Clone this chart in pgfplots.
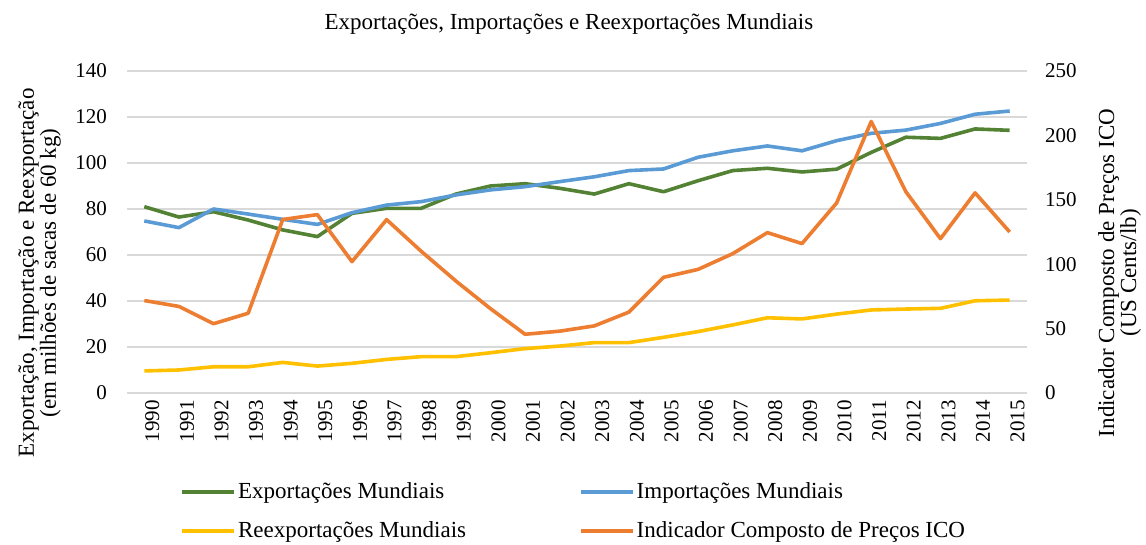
\documentclass[border=0pt]{standalone}
\usepackage{pgfplots}
\pgfplotsset{compat=1.18}
\usepackage{fontspec}
\setmainfont{Liberation Serif}
\definecolor{cgreen}{HTML}{548235}
\definecolor{cblue}{HTML}{5B9BD5}
\definecolor{cyellow}{HTML}{FFC000}
\definecolor{corange}{HTML}{ED7D31}
\definecolor{cgrid}{HTML}{D9D9D9}
\begin{document}
\begin{tikzpicture}
\path[use as bounding box] (-63.5pt,-76pt) rectangle (509.5pt,196.5pt);
\pgfplotsset{
  common/.style={
    width=450pt, height=161pt, scale only axis,
    xmin=1989.5, xmax=2015.5,
    axis line style={draw=none},
    tick style={draw=none},
    /pgf/number format/assume math mode=true,
    /pgf/number format/1000 sep={},
    tick label style={font=\fontsize{10.5}{12}\selectfont},
  },
}
\begin{axis}[common,
  ymin=0, ymax=140, ytick={0,20,...,140},
  xtick={1990,...,2015},
  xticklabel style={rotate=90, anchor=east, yshift=-4pt},
  yticklabel style={xshift=-6.5pt},
  ymajorgrids, grid style={cgrid, line width=0.9pt},
  title={Exportações, Importações e Reexportações Mundiais},
  title style={font=\fontsize{11.5}{13}\selectfont, at={(axis description cs:0.491,1.108)}, anchor=center, yshift=0pt},
  ylabel={Exportação, Importação e Reexportação\\(em milhões de sacas de 60 kg)},
  ylabel style={font=\fontsize{11.5}{11}\selectfont, align=center, at={(axis description cs:-0.097,0.373)}, anchor=center, rotate=0},
  every axis plot/.append style={line width=1.8pt, line join=round},
]
\addplot[cgreen] coordinates {(1990,81.0)(1991,76.5)(1992,78.8)(1993,75.2)(1994,70.9)(1995,68.0)(1996,78.1)(1997,80.3)(1998,80.3)(1999,86.5)(2000,90.0)(2001,91.0)(2002,89.0)(2003,86.5)(2004,91.0)(2005,87.5)(2006,92.3)(2007,96.7)(2008,97.7)(2009,96.1)(2010,97.3)(2011,104.6)(2012,111.2)(2013,110.7)(2014,114.8)(2015,114.2)};
\addplot[cblue] coordinates {(1990,74.8)(1991,71.9)(1992,80.0)(1993,77.8)(1994,75.5)(1995,73.3)(1996,78.4)(1997,81.7)(1998,83.2)(1999,86.1)(2000,88.3)(2001,89.7)(2002,91.9)(2003,94.0)(2004,96.7)(2005,97.4)(2006,102.5)(2007,105.3)(2008,107.4)(2009,105.3)(2010,109.7)(2011,112.9)(2012,114.3)(2013,117.2)(2014,121.2)(2015,122.6)};
\addplot[cyellow] coordinates {(1990,9.6)(1991,10.0)(1992,11.4)(1993,11.4)(1994,13.3)(1995,11.7)(1996,12.9)(1997,14.6)(1998,15.8)(1999,15.8)(2000,17.5)(2001,19.3)(2002,20.4)(2003,21.9)(2004,21.9)(2005,24.2)(2006,26.7)(2007,29.6)(2008,32.7)(2009,32.2)(2010,34.3)(2011,36.1)(2012,36.5)(2013,36.8)(2014,40.1)(2015,40.4)};
\end{axis}
\begin{axis}[common,
  ymin=0, ymax=250, ytick={0,50,...,250},
  axis x line=none,
  axis y line*=right,
  yticklabel style={anchor=west, xshift=5.5pt},
  ylabel={Indicador Composto de Preços ICO\\(US Cents/lb)},
  ylabel style={font=\fontsize{11.5}{11}\selectfont, align=center, at={(axis description cs:1.103,0.373)}, anchor=center, rotate=0},
  legend columns=2,
  legend cell align=left,
  legend style={draw=none, fill=none, at={(axis description cs:0.059,-0.264)}, anchor=north west,
    font=\fontsize{11.5}{13}\selectfont,
    /tikz/every odd column/.append style={column sep=-1pt},
    /tikz/every even column/.append style={column sep=54.5pt},
    row sep=6pt, inner sep=0pt},
  legend image code/.code={\draw[#1, line width=1.8pt] (0pt,0pt) -- (26pt,0pt);},
]
\addlegendimage{cgreen, line width=1.8pt}
\addlegendentry{Exportações Mundiais}
\addlegendimage{cblue, line width=1.8pt}
\addlegendentry{Importações Mundiais}
\addlegendimage{cyellow, line width=1.8pt}
\addlegendentry{Reexportações Mundiais}
\addplot[corange, line width=1.8pt, line join=round] coordinates {(1990,71.8)(1991,67.2)(1992,53.8)(1993,61.9)(1994,134.7)(1995,138.5)(1996,102.0)(1997,134.6)(1998,110.0)(1999,87.0)(2000,65.5)(2001,45.6)(2002,48.0)(2003,52.1)(2004,62.8)(2005,89.8)(2006,96.0)(2007,108.2)(2008,124.5)(2009,116.0)(2010,147.5)(2011,210.8)(2012,156.3)(2013,119.8)(2014,155.4)(2015,125.0)};
\addlegendentry{Indicador Composto de Preços ICO}
\end{axis}
\end{tikzpicture}
\end{document}
